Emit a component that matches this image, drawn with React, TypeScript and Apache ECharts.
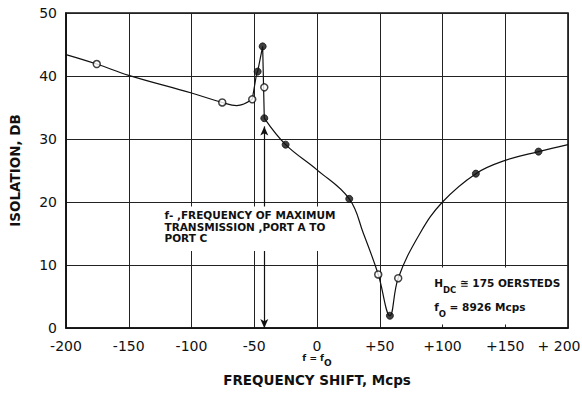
import React, { useEffect, useRef } from "react";
import * as echarts from "echarts";

const curveLeft: [number, number][] = [
  [-200, 43.4], [-175.5, 41.9], [-150, 40.1], [-100, 37.3], [-75.5, 35.8], [-64, 35.3], [-51.6, 36.3],
];
const curvePeak: [number, number][] = [
  [-51.6, 36.3], [-49.8, 38.4], [-48.1, 40.4], [-47.3, 40.7], [-43.3, 44.7], [-42, 33.3],
];
const curveRight: [number, number][] = [
  [-42, 33.3], [-25, 29.1], [0, 25.1], [25.7, 20.5], [37, 15], [48.8, 8.5], [58.1, 1.95],
  [64.7, 7.9], [82, 15], [100, 20], [126.6, 24.5], [150, 26.6], [176.5, 28], [200, 29.1],
];

// Measured points
const openPoints: [number, number][] = [
  [-175.5, 41.9], [-75.5, 35.8], [-51.6, 36.3], [-42, 38.2], [48.8, 8.5], [64.7, 7.9],
];
const filledPoints: [number, number][] = [
  [-47.3, 40.7], [-43.3, 44.7], [-42, 33.3], [-25, 29.1], [25.7, 20.5], [58.1, 1.95], [126.6, 24.5], [176.5, 28],
];

// f- arrow (frequency of maximum transmission)
const arrowX = -42;
const arrowTop = 32;

// Annotation anchors (data coords, top-left of box)
const note1Anchor: [number, number] = [-125.5, 19.3];
const note2Anchor: [number, number] = [87, 9.6];

const xMin = -200, xMax = 200, xStep = 50;
const yMin = 0, yMax = 50, yStep = 10;

const FONT = "'DejaVu Sans', 'Liberation Sans', sans-serif";
const INK = "#111";

function xLabel(v: number): string {
  if (v === 0) return "0\n{f|f = f}{s|O}";
  if (v === 200) return "{r|+ 200}";
  if (v > 0) return "+" + v;
  return String(v);
}

export default function App() {
  const ref = useRef<HTMLDivElement>(null);
  useEffect(() => {
    if (!ref.current) return;
    const chart = echarts.init(ref.current, null, { renderer: "svg" });
    const lineSeries = (data: [number, number][], smooth: number | boolean) => ({
      type: "line",
      data,
      smooth,
      showSymbol: false,
      symbol: "none",
      lineStyle: { color: INK, width: 1.2 },
      silent: true,
      z: 3,
    });
    chart.setOption({
      animation: false,
      backgroundColor: "#fff",
      grid: {
        left: 66, right: 14, top: 13, bottom: 66,
        containLabel: false, outerBoundsMode: "none",
        show: true, borderColor: INK, borderWidth: 1.6, backgroundColor: "transparent",
      },
      xAxis: {
        type: "value", min: xMin, max: xMax, interval: xStep,
        name: "FREQUENCY SHIFT, Mcps", nameLocation: "middle", nameGap: 45,
        nameTextStyle: { fontFamily: FONT, fontSize: 13.5, fontWeight: "bold", color: INK },
        axisLine: { show: true, onZero: false, lineStyle: { color: INK, width: 1.6 } },
        axisTick: { show: false },
        splitLine: { show: true, lineStyle: { color: "#222", width: 1 } },
        axisLabel: {
          formatter: xLabel, fontFamily: FONT, fontSize: 14, color: INK, margin: 11, lineHeight: 14,
          rich: {
            f: { fontFamily: FONT, fontSize: 9, fontWeight: "bold", color: INK, lineHeight: 6, verticalAlign: "top" },
            s: { fontFamily: FONT, fontSize: 9, fontWeight: "bold", color: INK, lineHeight: 14, verticalAlign: "bottom" },
            r: { fontFamily: FONT, fontSize: 14, color: INK, padding: [0, 18, 0, 0] },
          },
        },
      },
      yAxis: {
        type: "value", min: yMin, max: yMax, interval: yStep,
        name: "ISOLATION, DB", nameLocation: "middle", nameGap: 44, nameRotate: 90,
        nameTextStyle: { fontFamily: FONT, fontSize: 13.5, fontWeight: "bold", color: INK },
        axisLine: { show: true, onZero: false, lineStyle: { color: INK, width: 1.6 } },
        axisTick: { show: false },
        splitLine: { show: true, lineStyle: { color: "#222", width: 1 } },
        axisLabel: { fontFamily: FONT, fontSize: 14, color: INK, margin: 9 },
      },
      series: [
        lineSeries(curveLeft, 0.4),
        lineSeries(curvePeak, false),
        lineSeries(curveRight, 0.4),
        {
          type: "line",
          data: [],
          silent: true,
          markLine: {
            silent: true,
            symbol: ["arrow", "arrow"],
            symbolSize: [6, 9],
            label: { show: false },
            lineStyle: { color: INK, width: 1.2, type: "solid" },
            data: [[{ coord: [arrowX, yMin] }, { coord: [arrowX, arrowTop] }]],
          },
          z: 2,
        },
        {
          type: "scatter",
          data: filledPoints,
          symbol: "circle",
          symbolSize: 7,
          itemStyle: { color: INK, borderColor: INK, borderWidth: 1 },
          silent: true,
          z: 5,
        },
        {
          type: "scatter",
          data: openPoints,
          symbol: "circle",
          symbolSize: 7,
          itemStyle: { color: "#fff", borderColor: INK, borderWidth: 1.5 },
          silent: true,
          z: 5,
        },
      ],
    });

    const p1 = chart.convertToPixel({ gridIndex: 0 }, note1Anchor) as number[];
    const p2 = chart.convertToPixel({ gridIndex: 0 }, note2Anchor) as number[];
    chart.setOption({
      graphic: [
        {
          type: "text",
          x: p1[0], y: p1[1], z: 100,
          style: {
            text: "f- ,FREQUENCY OF MAXIMUM\nTRANSMISSION ,PORT A TO\nPORT C",
            font: `bold 10.5px ${FONT}`,
            fill: INK,
            lineHeight: 11.5,
            backgroundColor: "#fff",
            padding: [3, 5, 7, 5],
          },
        },
        {
          type: "text",
          x: p2[0], y: p2[1], z: 100,
          style: {
            text: "{n|H}{s|DC}{n| \u2245 175 OERSTEDS}\n{n|f}{s|O}{n| = 8926 Mcps}",
            font: `bold 10.5px ${FONT}`,
            fill: INK,
            backgroundColor: "#fff",
            padding: [3, 6, 6, 8],
            rich: {
              n: { font: `bold 10.5px ${FONT}`, fill: INK, lineHeight: 24 },
              s: { font: `bold 8.5px ${FONT}`, fill: INK, lineHeight: 14, verticalAlign: "bottom" },
            },
          },
        },
      ],
    });
    return () => chart.dispose();
  }, []);
  return <div ref={ref} style={{ position: "absolute", left: 0, top: 0, width: 582, height: 394 }} />;
}
